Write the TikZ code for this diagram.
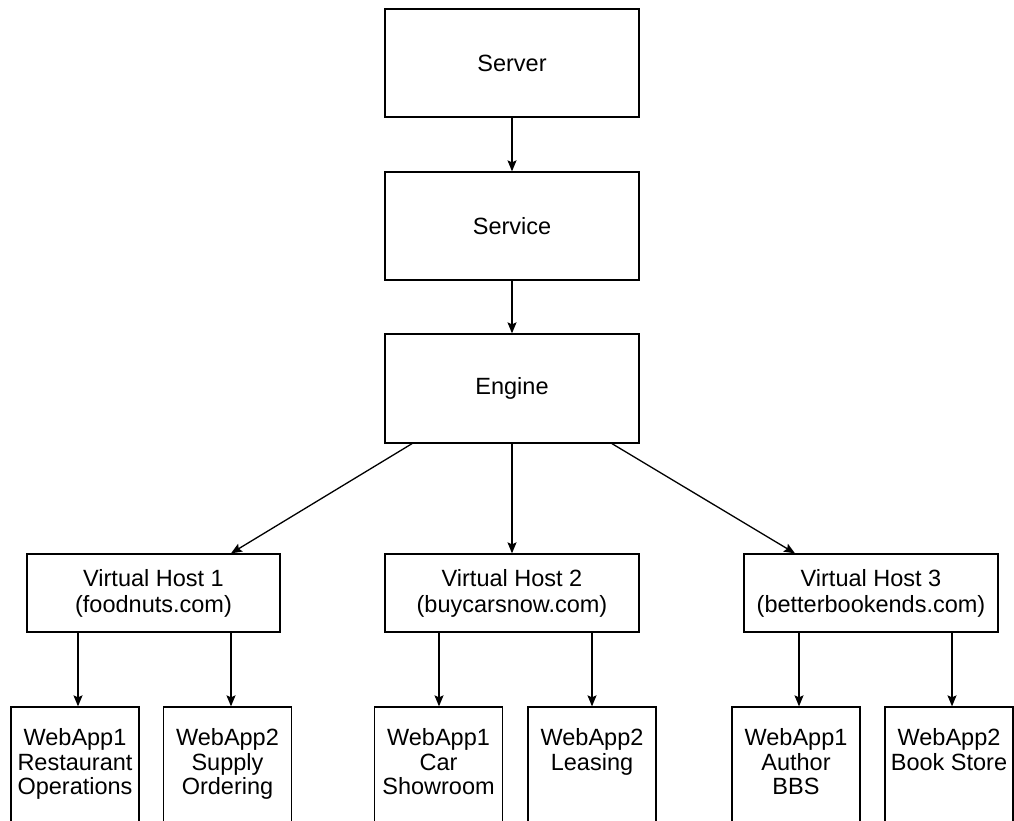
\documentclass[tikz,border=0pt]{standalone}
\usepackage{fontspec}
\setmainfont{Liberation Sans}
\usetikzlibrary{arrows.meta}
\begin{document}
\begin{tikzpicture}[x=1pt,y=-1pt,
  box/.style={draw,line width=1.3pt,rectangle,inner sep=0pt,font=\fontsize{23.5}{26}\selectfont,align=center},
  appbox/.style={draw,line width=1.3pt,rectangle,inner sep=0pt,minimum width=128pt,minimum height=140pt},
  apptext/.style={anchor=north,align=center,inner sep=0pt,font=\fontsize{23.5}{24.5}\selectfont},
  arr/.style={line width=1.3pt,-{Stealth[length=11pt,width=9pt,inset=2pt]}}]
\useasboundingbox (0,0) rectangle (1014,821);
\clip (0,0) rectangle (1014,821);
\node[box,minimum width=254pt,minimum height=108pt] (server) at (512,63) {Server};
\node[box,minimum width=254pt,minimum height=108pt] (service) at (512,226) {Service};
\node[box,minimum width=254pt,minimum height=109pt] (engine) at (512,388.5) {Engine};
\node[box,minimum width=253pt,minimum height=78pt] (vh1) at (153.5,593) {Virtual Host 1\\(foodnuts.com)};
\node[box,minimum width=254pt,minimum height=78pt] (vh2) at (512,593) {Virtual Host 2\\(buycarsnow.com)};
\node[box,minimum width=254pt,minimum height=78pt] (vh3) at (871,593) {Virtual Host 3\\(betterbookends.com)};
\node[appbox] (wa1) at (75,777) {};
\node[appbox] (wa2) at (227.5,777) {};
\node[appbox] (wa3) at (438.5,777) {};
\node[appbox] (wa4) at (592,777) {};
\node[appbox] (wa5) at (796,777) {};
\node[appbox] (wa6) at (949,777) {};
\node[apptext] (t1) at ([yshift=-22pt]wa1.north) {WebApp1\\Restaurant\\Operations};
\node[apptext] (t2) at ([yshift=-22pt]wa2.north) {WebApp2\\Supply\\Ordering};
\node[apptext] (t3) at ([yshift=-22pt]wa3.north) {WebApp1\\Car\\Showroom};
\node[apptext] (t4) at ([yshift=-22pt]wa4.north) {WebApp2\\Leasing};
\node[apptext] (t5) at ([yshift=-22pt]wa5.north) {WebApp1\\Author\\BBS};
\node[apptext] (t6) at ([yshift=-22pt]wa6.north) {WebApp2\\Book Store};
\draw[arr] (server) -- (service);
\draw[arr] (service) -- (engine);
\draw[arr] (engine.south -| 412,0) -- (vh1.north -| 231,0);
\draw[arr] (engine) -- (vh2);
\draw[arr] (engine.south -| 612,0) -- (vh3.north -| 795,0);
\draw[arr] (vh1.south -| 78,0) -- (wa1.north -| 78,0);
\draw[arr] (vh1.south -| 231,0) -- (wa2.north -| 231,0);
\draw[arr] (vh2.south -| 439,0) -- (wa3.north -| 439,0);
\draw[arr] (vh2.south -| 592,0) -- (wa4.north -| 592,0);
\draw[arr] (vh3.south -| 799,0) -- (wa5.north -| 799,0);
\draw[arr] (vh3.south -| 952,0) -- (wa6.north -| 952,0);
\end{tikzpicture}
\end{document}
